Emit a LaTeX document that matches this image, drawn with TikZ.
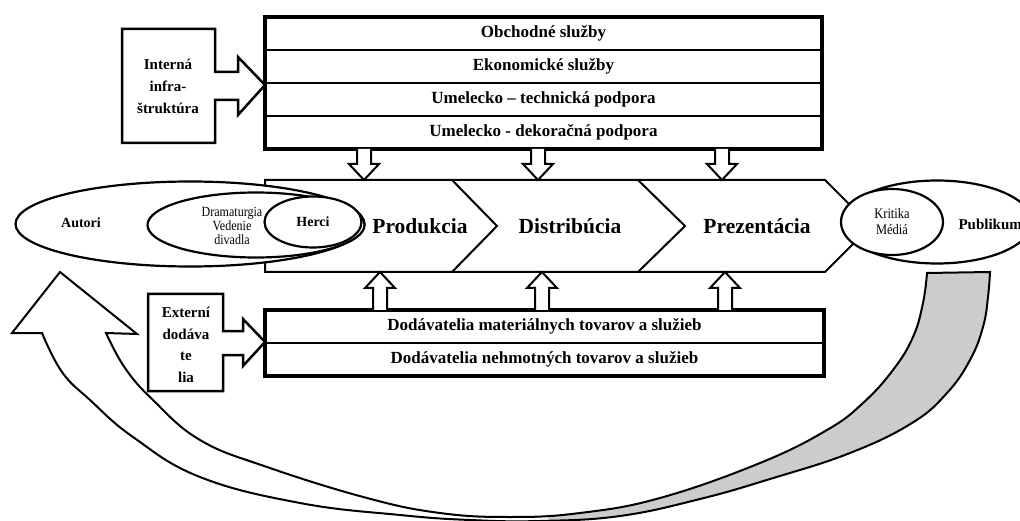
\documentclass[tikz,border=0pt]{standalone}
\usepackage{fontspec}
\setmainfont{Liberation Serif}
\newfontfamily\narrowserif[FakeStretch=0.86]{Liberation Serif}
\usetikzlibrary{calc,positioning,shapes.geometric}

\begin{document}
\begin{tikzpicture}[x=1pt,y=-1pt,
  rowbox/.style={draw, line width=2.5pt, outer sep=0pt, inner sep=0pt,
    minimum width=557pt, minimum height=33pt,
    font=\bfseries\fontsize{17}{19}\selectfont},
  supbox/.style={rowbox, minimum width=559pt},
  oval/.style={ellipse, draw, fill=white, line width=2.2pt, inner sep=0pt},
  stagetext/.style={font=\bfseries\fontsize{21.5}{24}\selectfont},
  sidetext/.style={align=center, font=\bfseries\fontsize{15}{21.5}\selectfont},
  blockline/.style={draw, fill=white, line width=2pt, line join=miter}]

\useasboundingbox (0,0) rectangle (1020,521);

% ------------------------------------------------------------------
% Vertical hollow arrow: \vblock{from}{tip}
% Shaft half width 7, head half width 15, head length 16.
% ------------------------------------------------------------------
\newcommand{\vblock}[2]{%
  \draw[blockline] ($(#1)+(-7,0)$) -- ($(#2)!16pt!(#1)+(-7,0)$)
    -- ($(#2)!16pt!(#1)+(-15,0)$) -- (#2)
    -- ($(#2)!16pt!(#1)+(15,0)$) -- ($(#2)!16pt!(#1)+(7,0)$)
    -- ($(#1)+(7,0)$);
}

% The big curved return arrow (outer edge, tail, inner edge, head).
\newcommand{\ribbonpath}{%
  plot[smooth, tension=0.7] coordinates {(42,333) (62,372) (90,400)
    (133,437) (200,477) (300,503) (400,515) (470,520) (540,521)
    (620,516) (700,499) (770,479) (850,453) (912,423) (947,393)
    (970,360) (983,327) (988,297) (990,272)}
  -- (927,273)
  -- plot[smooth, tension=0.7] coordinates {(927,273) (923,303)
    (913,337) (893,370) (863,403) (827,430) (760,463) (660,498)
    (580,513) (510,517) (440,513) (367,498) (267,467) (200,440)
    (153,400) (125,368) (106,333)}
  -- (137,334) -- (60,272) -- (12,333) -- cycle
}

% Return arrow: white front, grey back.
\fill[white] \ribbonpath;
\begin{scope}
  \clip (548,250) rectangle (1030,530);
  \fill[gray!40] \ribbonpath;
\end{scope}
\draw[line width=2pt, line join=miter] \ribbonpath;

% Support services (top block).
\node[rowbox, anchor=north west] (obchod) at (265,17) {Obchodné služby};
\node[rowbox, below=0pt of obchod] (ekonom) {Ekonomické služby};
\node[rowbox, below=0pt of ekonom] (techn) {Umelecko – technická podpora};
\node[rowbox, below=0pt of techn] (dekor) {Umelecko - dekoračná podpora};
\draw[line width=3.5pt] (obchod.north west) rectangle (dekor.south east);

% Suppliers (bottom block).
\node[supbox, anchor=north west] (dodmat) at (265,310)
  {Dodávatelia materiálnych tovarov a služieb};
\node[supbox, below=0pt of dodmat] (dodneh)
  {Dodávatelia nehmotných tovarov a služieb};
\draw[line width=3.5pt] (dodmat.north west) rectangle (dodneh.south east);

% Internal infrastructure box with its arrow.
\draw[line width=2.5pt, line join=miter, fill=white]
  (122,29) -- (215,29) -- (215,72) -- (238,72) -- (238,57) -- (265,85)
  -- (238,115) -- (238,100) -- (215,100) -- (215,143) -- (122,143) -- cycle;
\node[sidetext, font=\bfseries\fontsize{15}{22}\selectfont] (interna) at (168,86)
  {Interná\\infra-\\štruktúra};

% External suppliers box with its arrow.
\draw[line width=2.5pt, line join=miter, fill=white]
  (148,294) -- (223,294) -- (223,331) -- (243,331) -- (243,319) -- (265,342)
  -- (243,366) -- (243,355) -- (223,355) -- (223,391) -- (148,391) -- cycle;
\node[sidetext] (externi) at (186,345) {Externí\\dodáva\\te\\lia};

% Value chain band.
\coordinate (bandtop) at (265,180);
\coordinate (bandbot) at (265,272);
\draw[line width=2pt, line join=miter, fill=white]
  (bandtop) -- (825,180) -- (871,226) -- (825,272) -- (bandbot) -- cycle;
\draw[line width=2pt] (452,180) -- (497,226) -- (452,272);
\draw[line width=2pt] (638,180) -- (685,226) -- (638,272);
\node[stagetext] (produkcia) at (420,226) {Produkcia};
\node[stagetext] (distribucia) at (570,226) {Distribúcia};
\node[stagetext] (prezentacia) at (757,226) {Prezentácia};

% Hollow arrows into the band.
\foreach \ax [count=\i] in {364,538,722}{
  \coordinate (dn\i) at (\ax,0);
  \vblock{dekor.south -| dn\i}{bandtop -| dn\i}
}
\foreach \ax [count=\i] in {380,542,725}{
  \coordinate (up\i) at (\ax,0);
  \vblock{dodmat.north -| up\i}{bandbot -| up\i}
}

% Creators on the left.
\node[oval, minimum width=349pt, minimum height=85pt] (autori) at (190,224) {};
\node[oval, minimum width=217pt, minimum height=65pt] (drama) at (256,225) {};
\node[oval, minimum width=97pt, minimum height=51pt,
  font=\bfseries\fontsize{14}{16}\selectfont] (herci) at (313,222) {Herci};
\node[font=\bfseries\fontsize{14}{16}\selectfont] (autorit) at (81,223) {Autori};
\node[align=center, font=\narrowserif\fontsize{14}{14}\selectfont] (dramat)
  at (232,226) {Dramaturgia\\Vedenie\\divadla};

% Audience on the right.
\node[oval, minimum width=190pt, minimum height=83pt] (publikum) at (937,222) {};
\node[oval, minimum width=102pt, minimum height=66pt, align=center,
  font=\narrowserif\fontsize{14.5}{16}\selectfont] (kritika) at (892,222)
  {Kritika\\Médiá};
\node[font=\bfseries\fontsize{15}{17}\selectfont, anchor=west] (publikumt)
  at (955,224) {Publikum};

\end{tikzpicture}
\end{document}
